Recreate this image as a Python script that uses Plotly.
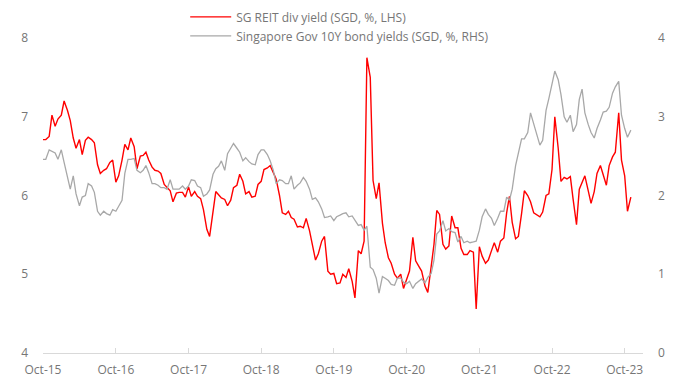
import pandas as pd
import plotly.graph_objects as go

# Semi-monthly observation dates (1st and 15th), Oct-2015 .. Nov-2023
reit_yield = [
    6.71, 6.71, 6.75, 7.02, 6.88, 6.97, 7.02, 7.20, 7.08, 6.95,
    6.73, 6.60, 6.71, 6.52, 6.70, 6.74, 6.71, 6.67, 6.39, 6.28,
    6.32, 6.34, 6.42, 6.45, 6.17, 6.25, 6.45, 6.65, 6.58, 6.73,
    6.62, 6.34, 6.50, 6.51, 6.55, 6.45, 6.36, 6.32, 6.31, 6.28,
    6.14, 6.10, 6.06, 5.92, 6.03, 6.04, 6.04, 5.98, 6.11, 5.99,
    6.05, 5.99, 5.96, 5.82, 5.57, 5.48, 5.80, 6.05, 6.01, 5.97,
    5.95, 5.87, 5.94, 6.10, 6.13, 6.27, 6.18, 6.02, 6.05, 5.98,
    5.99, 6.14, 6.18, 6.33, 6.35, 6.38, 6.29, 6.21, 6.00, 5.78,
    5.76, 5.80, 5.72, 5.70, 5.60, 5.61, 5.59, 5.71, 5.55, 5.39,
    5.18, 5.26, 5.42, 5.48, 5.04, 5.00, 5.01, 4.88, 4.89, 5.00,
    4.96, 5.07, 4.91, 4.70, 5.30, 5.26, 5.42, 7.75, 7.50, 6.19,
    5.96, 6.16, 5.65, 5.40, 5.21, 5.14, 5.00, 4.95, 5.00, 4.82,
    4.94, 5.04, 5.47, 5.17, 5.10, 5.04, 4.85, 4.77, 5.10, 5.38,
    5.81, 5.76, 5.38, 5.32, 5.36, 5.74, 5.59, 5.59, 5.33, 5.25,
    5.25, 5.30, 5.28, 4.56, 5.35, 5.23, 5.14, 5.18, 5.30, 5.40,
    5.28, 5.42, 5.46, 5.78, 5.99, 5.66, 5.45, 5.48, 5.77, 6.06,
    6.00, 5.92, 5.78, 5.76, 5.73, 5.79, 6.00, 6.02, 6.33, 7.00,
    6.60, 6.18, 6.23, 6.21, 6.24, 5.95, 5.63, 6.08, 6.17, 6.25,
    6.06, 5.90, 6.05, 6.28, 6.38, 6.25, 6.13, 6.38, 6.49, 6.55,
    7.05, 6.45, 6.25, 5.80, 5.98,
]

sgs_10y = [
    2.46, 2.46, 2.58, 2.56, 2.54, 2.46, 2.58, 2.42, 2.25, 2.08,
    2.25, 2.02, 1.87, 1.98, 2.00, 2.15, 2.12, 2.04, 1.80, 1.75,
    1.80, 1.77, 1.75, 1.82, 1.80, 1.86, 1.94, 2.28, 2.46, 2.46,
    2.47, 2.32, 2.29, 2.32, 2.38, 2.29, 2.15, 2.15, 2.13, 2.10,
    2.10, 2.08, 2.20, 2.08, 2.08, 2.08, 2.12, 2.08, 2.12, 2.20,
    2.19, 2.12, 2.10, 1.99, 2.02, 2.07, 2.27, 2.34, 2.37, 2.44,
    2.32, 2.53, 2.60, 2.66, 2.60, 2.55, 2.44, 2.48, 2.43, 2.40,
    2.39, 2.52, 2.58, 2.58, 2.52, 2.44, 2.32, 2.15, 2.20, 2.19,
    2.15, 2.15, 2.25, 2.08, 2.13, 2.16, 2.23, 2.18, 2.08, 1.95,
    1.97, 1.92, 1.83, 1.72, 1.73, 1.74, 1.68, 1.73, 1.75, 1.77,
    1.78, 1.73, 1.74, 1.69, 1.62, 1.63, 1.56, 1.61, 1.09, 1.06,
    0.95, 0.76, 0.97, 0.95, 0.92, 0.87, 0.86, 0.95, 0.95, 0.90,
    0.88, 0.91, 0.82, 0.88, 0.91, 0.94, 0.89, 0.96, 1.01, 1.18,
    1.51, 1.55, 1.68, 1.55, 1.58, 1.54, 1.53, 1.41, 1.48, 1.40,
    1.42, 1.40, 1.41, 1.42, 1.56, 1.73, 1.83, 1.76, 1.71, 1.62,
    1.71, 1.80, 1.80, 1.98, 1.94, 2.08, 2.38, 2.56, 2.72, 2.72,
    2.80, 3.05, 2.90, 2.80, 2.64, 2.70, 3.08, 3.23, 3.42, 3.58,
    3.47, 3.28, 3.00, 2.93, 3.02, 2.81, 2.90, 3.22, 3.35, 3.05,
    2.90, 2.80, 2.73, 2.85, 2.96, 3.06, 3.07, 3.12, 3.30, 3.38,
    3.45, 3.02, 2.85, 2.74, 2.83,
]

dates = pd.date_range("2015-10-01", periods=len(reit_yield), freq="SMS")

tick_dates = ["2015-10-01", "2016-10-01", "2017-10-01", "2018-10-01", "2019-10-01",
              "2020-10-01", "2021-10-01", "2022-10-01", "2023-10-01"]
tick_labels = ["Oct-15", "Oct-16", "Oct-17", "Oct-18", "Oct-19",
               "Oct-20", "Oct-21", "Oct-22", "Oct-23"]

FONT = "Open Sans"
TXT = "#767676"

fig = go.Figure()
fig.add_trace(go.Scatter(
    x=dates, y=reit_yield, mode="lines", name="SG REIT div yield (SGD, %, LHS)",
    line=dict(color="#FF0000", width=1.4), yaxis="y",
))
fig.add_trace(go.Scatter(
    x=dates, y=sgs_10y, mode="lines", name="Singapore Gov 10Y bond yields (SGD, %, RHS)",
    line=dict(color="#A8A8A8", width=1.3), yaxis="y2",
))

fig.update_layout(
    width=694, height=385,
    margin=dict(l=43, r=51, t=38, b=32, autoexpand=False),
    paper_bgcolor="white", plot_bgcolor="white",
    font=dict(family=FONT, size=12, color=TXT),
    showlegend=True,
    legend=dict(
        x=0.237, y=1.113, xanchor="left", yanchor="top",
        orientation="v", bgcolor="rgba(0,0,0,0)",
        font=dict(family=FONT, size=12, color=TXT),
        tracegroupgap=0, itemwidth=41,
    ),
    xaxis=dict(
        type="date", range=["2015-10-01", "2024-01-01"],
        tickmode="array", tickvals=tick_dates, ticktext=tick_labels,
        showgrid=False, zeroline=False,
        showline=True, linecolor="#D9D9D9", linewidth=1,
        ticks="inside", ticklen=5, tickcolor="#D9D9D9", tickwidth=1,
        tickfont=dict(family=FONT, size=12, color=TXT),
        ticklabelstandoff=6,
    ),
    yaxis=dict(
        range=[4, 8], tickmode="array", tickvals=[4, 5, 6, 7, 8],
        showgrid=False, zeroline=False, showline=False,
        tickfont=dict(family=FONT, size=12, color=TXT),
        ticklabelstandoff=14,
    ),
    yaxis2=dict(
        range=[0, 4], tickmode="array", tickvals=[0, 1, 2, 3, 4],
        overlaying="y", side="right",
        showgrid=False, zeroline=False, showline=False,
        tickfont=dict(family=FONT, size=12, color=TXT),
        ticklabelstandoff=14,
    ),
)

fig.write_html(
    "out.html",
    config={"displayModeBar": False},
    post_script="document.body.style.margin='0';document.body.style.padding='0';",
)
